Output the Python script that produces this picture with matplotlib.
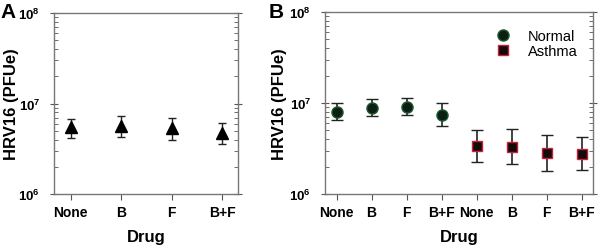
import matplotlib.pyplot as plt
from matplotlib.lines import Line2D
import numpy as np

plt.rcParams['font.family'] = 'Liberation Sans'
plt.rcParams['mathtext.fontset'] = 'custom'
plt.rcParams['mathtext.bf'] = 'Liberation Sans:bold'
plt.rcParams['mathtext.rm'] = 'Liberation Sans:bold'

# Panel A (all subjects)
drugs = ['None', 'B', 'F', 'B+F']
a_mean = [5.5e6, 5.7e6, 5.37e6, 4.76e6]
a_low = [4.16e6, 4.3e6, 3.95e6, 3.53e6]
a_high = [6.76e6, 7.3e6, 6.9e6, 6.1e6]

# Panel B (normal vs asthma)
normal_mean = [8.0e6, 8.8e6, 8.96e6, 7.44e6]
normal_low = [6.56e6, 7.2e6, 7.3e6, 5.63e6]
normal_high = [9.9e6, 1.1e7, 1.13e7, 9.9e6]
asthma_mean = [3.34e6, 3.31e6, 2.82e6, 2.77e6]
asthma_low = [2.25e6, 2.14e6, 1.78e6, 1.85e6]
asthma_high = [5.0e6, 5.14e6, 4.48e6, 4.23e6]

ytick_vals = [1e6, 1e7, 1e8]
ytick_labels = [r'$\mathbf{10^6}$', r'$\mathbf{10^7}$', r'$\mathbf{10^8}$']

normal_style = dict(marker='o', mfc='#0b1f12', mec='#1f5a33', mew=1, ms=8)
asthma_style = dict(marker='s', mfc='#150a0a', mec='#c8203c', mew=1, ms=7.5)


def errs(mean, low, high):
    m = np.array(mean)
    return [m - np.array(low), np.array(high) - m]


def style_axis(ax, labels, xlim, label_x):
    ax.set_yscale('log')
    ax.set_ylim(1e6, 1e8)
    ax.set_yticks(ytick_vals)
    ax.set_yticklabels(ytick_labels, fontsize=9.5)
    ax.set_xticks(np.arange(len(labels)))
    ax.set_xticklabels(labels, fontsize=10, fontweight='bold')
    ax.set_xlim(*xlim)
    for s in ax.spines.values():
        s.set_color('#777777')
        s.set_linewidth(1.0)
    ax.tick_params(axis='y', which='both', right=True, left=True, color='#555555')
    ax.tick_params(axis='y', which='major', direction='inout', length=6, pad=7)
    ax.tick_params(axis='y', which='minor', direction='in', length=3)
    ax.tick_params(axis='x', direction='out', length=4, color='#555555', pad=4)
    ax.set_xlabel('Drug', fontsize=12, fontweight='bold', labelpad=7)
    ax.set_ylabel('HRV16 (PFUe)', fontsize=12, fontweight='bold')
    ax.yaxis.set_label_coords(label_x, 0.5)


fig = plt.figure(figsize=(6, 2.51), dpi=100)
axA = fig.add_axes([0.09, 0.223, 0.306, 0.721])
axB = fig.add_axes([0.5417, 0.223, 0.4467, 0.725])

xa = np.arange(len(drugs))
axA.errorbar(xa, a_mean, yerr=errs(a_mean, a_low, a_high), fmt='^', color='black',
             ms=9, ecolor='#222222', elinewidth=1, capsize=3, capthick=1)
style_axis(axA, drugs, (-0.33, 3.3), -0.19)

xn = np.arange(len(drugs))
xs = np.arange(len(drugs)) + len(drugs)
axB.errorbar(xn, normal_mean, yerr=errs(normal_mean, normal_low, normal_high), ls='none',
             ecolor='#222222', elinewidth=1.2, capsize=4, capthick=1.2, **normal_style)
axB.errorbar(xs, asthma_mean, yerr=errs(asthma_mean, asthma_low, asthma_high), ls='none',
             ecolor='#222222', elinewidth=1.2, capsize=4, capthick=1.2, **asthma_style)
style_axis(axB, drugs + drugs, (-0.33, 7.32), -0.14)

handles = [Line2D([], [], ls='none', **normal_style),
           Line2D([], [], ls='none', **asthma_style)]
axB.legend(handles, ['Normal', 'Asthma'], loc='upper right', bbox_to_anchor=(0.99, 0.98),
           frameon=False, fontsize=10.5, handletextpad=1.2, labelspacing=0.1,
           handlelength=1.0)

fig.text(0.0, 0.99, 'A', fontsize=15, fontweight='bold', va='top', ha='left')
fig.text(0.447, 0.99, 'B', fontsize=15, fontweight='bold', va='top', ha='left')

fig.savefig('out.png', dpi=100)
